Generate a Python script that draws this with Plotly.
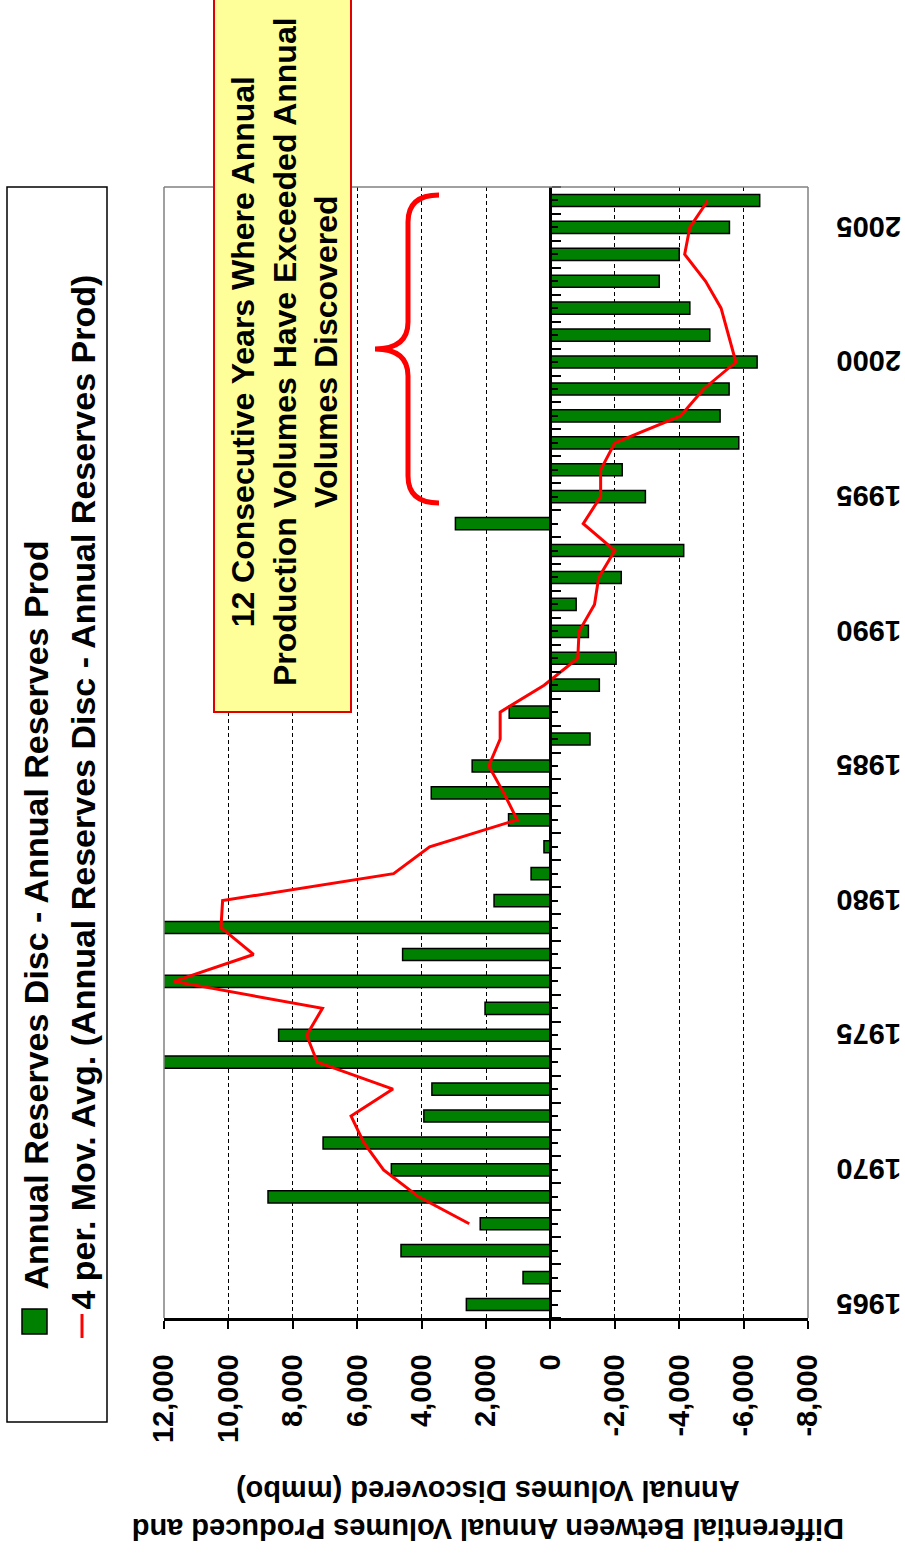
import plotly.graph_objects as go

# Annual reserves discovered minus annual reserves produced (mmbo)
years = list(range(1965, 2007))
differential = [
    2610, 850, 4640, 2180, 8770, 4940, 7060, 3930, 3680, 14300,
    8440, 2030, 22000, 4590, 12300, 1750, 600, 200, 1300, 3700,
    2430, -1230, 1280, -1520, -2040, -1180, -800, -2200, -4140, 2950,
    -2950, -2230, -5850, -5270, -5550, -6420, -4950, -4330, -3380, -4000,
    -5560, -6500,
]

# 4-period moving average of the differential
ma_years = list(range(1968, 2007))
moving_avg = [
    2520, 4090, 5180, 5790, 6190, 4890, 7240, 7570, 7080, 11690,
    9220, 10230, 10180, 4870, 3750, 1030, 1450, 1915, 1560, 1560,
    195, -850, -890, -1370, -1500, -2000, -1020, -1560, -1560, -2000,
    -4040, -4760, -5760, -5540, -5300, -4820, -4170, -4330, -4890,
]

value_ticks = [12000, 10000, 8000, 6000, 4000, 2000, 0, -2000, -4000, -6000, -8000]
value_tick_text = ["12,000", "10,000", "8,000", "6,000", "4,000", "2,000", "0",
                   "-2,000", "-4,000", "-6,000", "-8,000"]
year_ticks = [1965, 1970, 1975, 1980, 1985, 1990, 1995, 2000, 2005]
year_tick_text = [str(y) for y in year_ticks]

bar_label = "Annual Reserves Disc - Annual Reserves Prod"
line_label = "4 per. Mov. Avg. (Annual Reserves Disc - Annual Reserves Prod)"
note_text = ("12 Consecutive Years Where Annual<br>"
             "Production Volumes Have Exceeded Annual<br>"
             "Volumes Discovered")
axis_title = ("Differential Between Annual Volumes Produced and<br>"
              "Annual Volumes Discovered (mmbo)")

W, H = 905, 1555
PL, PR, PT, PB = 164, 808, 187, 1318
X_RANGE = [12000, -8000]
Y_RANGE = [1964.5, 2006.5]
FONT = "Liberation Sans, Arial, sans-serif"
# upside-down year labels sit slightly high; nudge them onto their bars
LABEL_NUDGE = 0.3


def px(x):
    return (x - PL) / (PR - PL)


def py(y):
    return (PB - y) / (PB - PT)


zero_pos = (X_RANGE[0] - 0) / (X_RANGE[0] - X_RANGE[1])

fig = go.Figure()
fig.add_trace(go.Bar(
    x=differential, y=years, orientation="h", width=0.45,
    marker=dict(color="#008000", line=dict(color="black", width=1.5)),
    name=bar_label, showlegend=False,
))
fig.add_trace(go.Scatter(
    x=moving_avg, y=ma_years, mode="lines", yaxis="y2",
    line=dict(color="#FF0000", width=3),
    name=line_label, showlegend=False,
))

fig.update_layout(
    width=W, height=H,
    margin=dict(l=PL, r=W - PR, t=PT, b=H - PB),
    paper_bgcolor="white", plot_bgcolor="white",
    font=dict(family=FONT, color="black"),
    showlegend=False,
    xaxis=dict(
        range=X_RANGE, tickvals=value_ticks, ticktext=value_tick_text,
        tickangle=-90, tickfont=dict(size=29, weight="bold", family=FONT),
        ticks="outside", ticklen=8, tickwidth=2, tickcolor="black",
        ticklabelstandoff=14, automargin=False,
        showline=True, linecolor="black", linewidth=2.5,
        showgrid=True, gridcolor="black", gridwidth=1, griddash="4px,3px",
        zeroline=False,
    ),
    yaxis=dict(
        range=Y_RANGE, side="right",
        tickvals=[y - LABEL_NUDGE for y in year_ticks], ticktext=year_tick_text,
        tickangle=180, tickfont=dict(size=29, weight="bold", family=FONT),
        ticks="", ticklabelstandoff=92, automargin=False,
        showline=False, showgrid=False, zeroline=False,
    ),
    yaxis2=dict(
        range=Y_RANGE, overlaying="y", anchor="free", position=zero_pos, side="right",
        showline=True, linecolor="black", linewidth=2.5, automargin=False,
        tickmode="array", tickvals=[y - 0.5 for y in years] + [years[-1] + 0.5],
        ticks="outside", ticklen=9, tickwidth=1.5, tickcolor="black",
        minor=dict(tickmode="array", tickvals=years, ticks="outside",
                   ticklen=6, tickwidth=1.5, tickcolor="black"),
        showticklabels=False, showgrid=False, zeroline=False,
    ),
)

shapes = []
# plot frame (left, top, right)
for x0, y0, x1, y1 in [(0, 0, 0, 1), (0, 1, 1, 1), (1, 0, 1, 1)]:
    shapes.append(dict(type="line", xref="paper", yref="paper", x0=x0, y0=y0, x1=x1, y1=y1,
                       line=dict(color="#808080", width=1.5), layer="above"))

# note box
shapes.append(dict(type="rect", xref="paper", yref="paper",
                   x0=px(214), x1=px(351), y0=py(712), y1=py(-40),
                   fillcolor="#FFFF99", line=dict(color="#E00000", width=2), layer="above"))

# curly brace spanning the 12 years
bx_tip, bx_spine, bx_point = px(439), px(408), px(375)
by = lambda v: py(v)
brace = (f"M {bx_tip},{by(195)} Q {bx_spine},{by(195)} {bx_spine},{by(222)} "
         f"L {bx_spine},{by(322)} Q {bx_spine},{by(349)} {bx_point},{by(349)} "
         f"Q {bx_spine},{by(349)} {bx_spine},{by(376)} "
         f"L {bx_spine},{by(476)} Q {bx_spine},{by(503)} {bx_tip},{by(503)}")
shapes.append(dict(type="path", xref="paper", yref="paper", path=brace,
                   line=dict(color="#FF0000", width=5), layer="above"))

# legend frame and symbols
shapes.append(dict(type="rect", xref="paper", yref="paper",
                   x0=px(7), x1=px(107), y0=py(1422), y1=py(187),
                   fillcolor="white", line=dict(color="black", width=1.5), layer="above"))
shapes.append(dict(type="rect", xref="paper", yref="paper",
                   x0=px(22), x1=px(47), y0=py(1334), y1=py(1309),
                   fillcolor="#008000", line=dict(color="black", width=1.5), layer="above"))
shapes.append(dict(type="line", xref="paper", yref="paper",
                   x0=px(82), x1=px(82), y0=py(1338), y1=py(1314),
                   line=dict(color="#FF0000", width=3), layer="above"))
fig.update_layout(shapes=shapes)

annotations = [
    dict(text=bar_label, x=px(35), y=py(1292), xanchor="center", yanchor="bottom",
         textangle=-90, font=dict(size=34, weight="bold", family=FONT)),
    dict(text=line_label, x=px(82), y=py(1312), xanchor="center", yanchor="bottom",
         textangle=-90, font=dict(size=34, weight="bold", family=FONT)),
    dict(text=note_text, x=px(284), y=py(352), xanchor="center", yanchor="middle",
         textangle=-90, align="center", font=dict(size=32, weight="bold", family=FONT)),
    dict(text=axis_title, x=px(488), y=py(1510), xanchor="center", yanchor="middle",
         textangle=180, align="center", font=dict(size=29, weight="bold", family=FONT)),
]
for a in annotations:
    a.update(xref="paper", yref="paper", showarrow=False)
fig.update_layout(annotations=annotations)

fig.write_html("out.html")
